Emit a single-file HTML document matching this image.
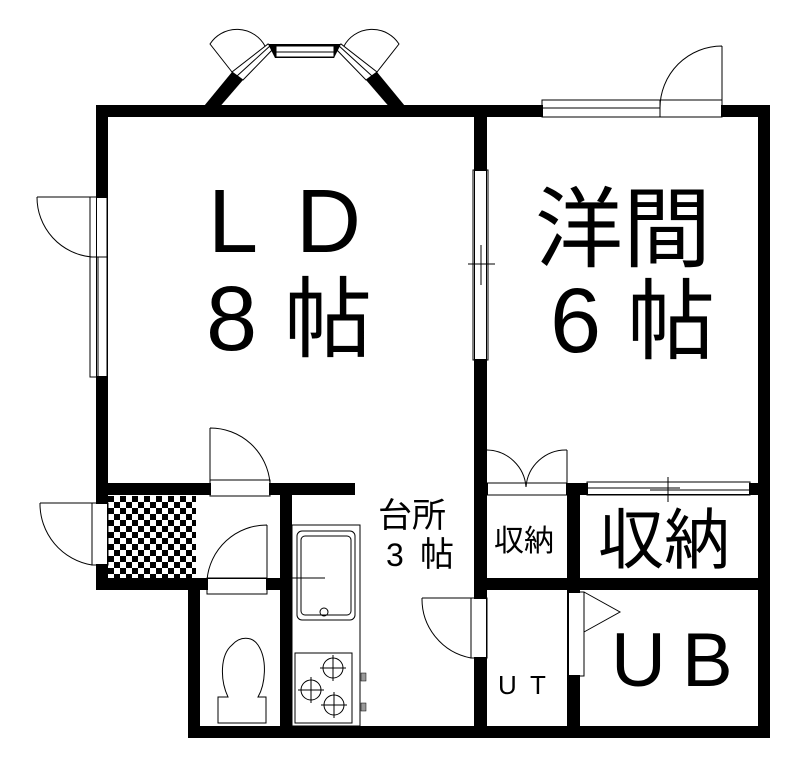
<!DOCTYPE html>
<html><head><meta charset="utf-8"><style>
html,body{margin:0;padding:0;background:#fff}
svg{display:block}
text{font-family:"Liberation Sans","Noto Sans CJK JP",sans-serif;fill:#000}
</style></head><body>
<svg width="797" height="767" viewBox="0 0 797 767" xmlns="http://www.w3.org/2000/svg">
<defs>
<pattern id="chk" x="108" y="496" width="12" height="12" patternUnits="userSpaceOnUse">
<rect width="12" height="12" fill="#fff"/>
<rect x="0" y="0" width="6" height="6" fill="#000"/>
<rect x="6" y="6" width="6" height="6" fill="#000"/>
</pattern>
</defs>
<g fill="#000">
<rect x="96" y="105" width="674" height="12"/>
<rect x="96" y="105" width="12" height="390"/>
<rect x="758" y="105" width="12" height="633"/>
<rect x="474" y="105" width="13" height="633"/>
<rect x="96" y="483" width="259" height="12"/>
<rect x="96" y="483" width="12" height="106"/>
<rect x="96" y="578" width="196" height="12"/>
<rect x="188" y="578" width="12" height="160"/>
<rect x="280" y="483" width="12" height="255"/>
<rect x="188" y="726" width="582" height="12"/>
<rect x="474" y="483" width="296" height="12"/>
<rect x="474" y="578" width="296" height="12"/>
<rect x="567" y="483" width="13" height="255"/>
</g>
<rect x="108" y="496" width="88" height="82" fill="url(#chk)"/>
<g fill="#fff">
<rect x="97" y="198" width="10" height="178"/>
<rect x="475" y="171" width="11" height="188"/>
<rect x="93" y="504" width="14" height="60"/>
<rect x="211" y="481" width="58" height="14"/>
<rect x="208" y="579" width="58" height="14"/>
<rect x="488" y="483" width="78" height="12"/>
<rect x="588" y="483" width="161" height="11"/>
<rect x="472" y="599" width="14" height="58"/>
<rect x="569" y="593" width="14" height="82"/>
<rect x="543" y="101" width="178" height="16"/>
</g>
<g fill="none" stroke="#000" stroke-width="1">
<line x1="90" y1="257" x2="107" y2="257"/>
<line x1="98" y1="257" x2="98" y2="377"/>
<rect x="90" y="257" width="17" height="120"/>
<rect x="90" y="197" width="17" height="60"/>
<rect x="473" y="170" width="15" height="190"/>
<line x1="481" y1="245" x2="481" y2="285"/>
<line x1="468" y1="264" x2="495" y2="264"/>
<rect x="92" y="503" width="16" height="62"/>
<rect x="210" y="480" width="60" height="16"/>
<rect x="207" y="578" width="60" height="16"/>
<line x1="487" y1="483" x2="567" y2="483"/>
<line x1="487" y1="495" x2="567" y2="495"/>
<rect x="587" y="482" width="163" height="13"/>
<line x1="587" y1="488" x2="680" y2="488"/>
<line x1="650" y1="490" x2="750" y2="490"/>
<line x1="668" y1="477" x2="668" y2="502"/>
<rect x="471" y="598" width="16" height="60"/>
<rect x="568" y="592" width="16" height="84"/>
<rect x="542" y="100" width="118" height="17"/>
<line x1="542" y1="108" x2="660" y2="108"/>
<rect x="660" y="100" width="62" height="17"/>
<path d="M37 197 L90 197 M37 197 A60 60 0 0 0 92 257"/>
<path d="M210 428 L210 480 M210 428 A60 60 0 0 1 270 483"/>
<path d="M267 525 L267 578 M267 525 A60 60 0 0 0 207 580"/>
<path d="M422 598 L471 598 M422 598 A60 60 0 0 0 471 658"/>
<path d="M487 450 A40 40 0 0 1 526 487 M567 450 L567 483 M567 450 A40 40 0 0 0 526 487"/>
<path d="M584 592 L620 612 L584 632"/>
<path d="M722 46 L722 100 M722 46 A62 62 0 0 0 660 108"/>
<path d="M92 503 L40 503 M92 565 A62 62 0 0 1 40 503"/>
<rect x="292" y="525" width="68" height="201"/>
<rect x="297" y="531" width="58" height="89" rx="5"/>
<rect x="301" y="536" width="50" height="79" rx="4"/>
<circle cx="324" cy="612" r="4"/>
<line x1="292" y1="578" x2="325" y2="578"/>
<rect x="295" y="653" width="57" height="70"/>
<circle cx="333" cy="668" r="10"/><circle cx="311" cy="690" r="10"/><circle cx="334" cy="705" r="10"/>
<path d="M333 655v26M320 668h26M311 677v26M298 690h26M334 692v26M321 705h26"/>
<path d="M228 697 C220 680 220 655 232 645 C240 636 252 636 258 645 C268 660 265 685 258 697 L266 697 L266 723 L218 723 L218 697 Z"/>
</g>
<rect x="361" y="673" width="5" height="8" fill="#999" stroke="#000" stroke-width="0.5"/>
<rect x="361" y="703" width="5" height="8" fill="#999" stroke="#000" stroke-width="0.5"/>
<!-- bay window -->
<g stroke="#000">
<polygon points="195,117 211,117 243,80 232,72" fill="#000" stroke="none"/>
<polygon points="414,117 398,117 366,80 377,72" fill="#000" stroke="none"/>
<polygon points="232,72 243,80 275,47 268,44" fill="#fff"/>
<line x1="237" y1="76" x2="271" y2="45"/>
<polygon points="377,72 366,80 334,47 341,44" fill="#fff"/>
<line x1="372" y1="76" x2="338" y2="45"/>
<polygon points="268,44 341,44 334,58 275,58" fill="#000" stroke="none"/>
<rect x="276" y="46" width="58" height="11" fill="#fff"/>
<line x1="276" y1="52" x2="334" y2="52"/>
<path d="M232 72 L210 44 A32 32 0 0 1 265 46" fill="none"/>
<path d="M377 72 L399 44 A32 32 0 0 0 344 46" fill="none"/>
</g>
<text x="208" y="252" font-size="90">L</text>
<text x="296" y="252" font-size="90">D</text>
<text x="206" y="350" font-size="92">8</text>
<text x="284" y="350" font-size="88">帖</text>
<text x="535" y="260" font-size="88">洋間</text>
<text x="550" y="352" font-size="92">6</text>
<text x="627" y="352" font-size="88">帖</text>
<text x="378" y="527" font-size="34">台所</text>
<text x="386" y="566" font-size="32">3</text>
<text x="420" y="566" font-size="34">帖</text>
<text x="494" y="551" font-size="30">収納</text>
<text x="598" y="563" font-size="66">収納</text>
<text x="611" y="686" font-size="76">U</text>
<text x="682" y="686" font-size="76">B</text>
<text x="498" y="694" font-size="26">U</text>
<text x="530" y="694" font-size="26">T</text>
</svg>
</body></html>
